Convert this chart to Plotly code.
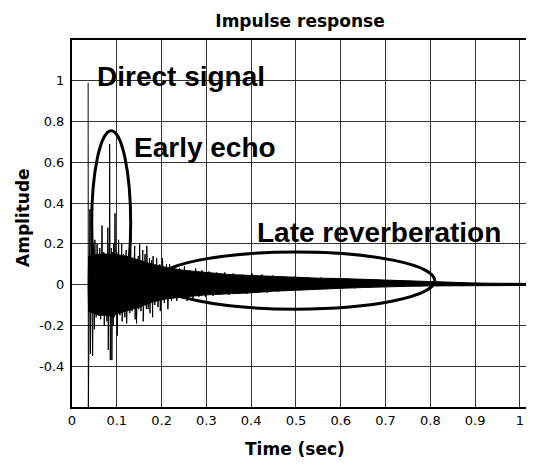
import plotly.graph_objects as go

# ---------------- data ----------------
# dense part of the response: upper / lower envelope of the black band
env_t  = [0.036, 0.037, 0.06, 0.09, 0.12, 0.15, 0.18, 0.21, 0.25, 0.30, 0.35, 0.40,
          0.45, 0.50, 0.55, 0.60, 0.65, 0.70, 0.75, 0.80, 0.85, 0.90, 0.95, 1.00, 1.018]
env_hi = [0.0, 0.14, 0.15, 0.15, 0.14, 0.12, 0.10, 0.085, 0.07, 0.06, 0.05, 0.045,
          0.04, 0.035, 0.032, 0.03, 0.026, 0.022, 0.018, 0.014, 0.01, 0.008, 0.007, 0.006, 0.006]
env_lo = [0.0, -0.13, -0.15, -0.15, -0.13, -0.11, -0.085, -0.07, -0.06, -0.05, -0.045, -0.04,
          -0.032, -0.027, -0.022, -0.018, -0.014, -0.01, -0.008, -0.006, -0.005, -0.004, -0.004, -0.004, -0.004]

# individual peaks (direct signal, early echoes, reverberation texture)
spike_t = [0.036, 0.0365, 0.040, 0.041, 0.043, 0.046, 0.048, 0.050, 0.051, 0.054,
           0.056, 0.059, 0.062, 0.064, 0.067, 0.069, 0.071, 0.072, 0.076, 0.078,
           0.080, 0.081, 0.083, 0.0835, 0.084, 0.0855, 0.088, 0.089, 0.091, 0.092,
           0.093, 0.094, 0.096, 0.098, 0.100, 0.101, 0.104, 0.107, 0.111, 0.112,
           0.115, 0.118, 0.121, 0.122, 0.126, 0.129, 0.131, 0.134, 0.140, 0.141,
           0.143, 0.144, 0.148, 0.149, 0.151, 0.154, 0.158, 0.159, 0.163, 0.166,
           0.167, 0.170, 0.173, 0.174, 0.178, 0.180, 0.181, 0.185, 0.189, 0.192,
           0.196, 0.197, 0.202, 0.206, 0.211, 0.214, 0.218, 0.222, 0.228, 0.234,
           0.240, 0.246, 0.251, 0.257, 0.263, 0.270, 0.276, 0.283, 0.290, 0.298,
           0.306, 0.315, 0.323, 0.332, 0.341, 0.350, 0.360, 0.370, 0.380, 0.391,
           0.402, 0.413, 0.424, 0.436, 0.448, 0.460, 0.472, 0.485, 0.498, 0.512,
           0.526, 0.540, 0.555, 0.570, 0.585, 0.600, 0.616, 0.632, 0.648, 0.665,
           0.682, 0.700, 0.718, 0.737, 0.756, 0.775, 0.795, 0.815, 0.840, 0.870,
           0.900, 0.940, 0.980, 1.018]
spike_a = [0.99, -0.62, 0.37, -0.34, 0.20, -0.35, 0.16, -0.22, 0.22, -0.16,
           0.20, -0.15, 0.18, -0.17, 0.29, -0.14, 0.16, -0.20, 0.15, -0.18,
           0.28, -0.32, 0.20, -0.12, 0.69, -0.37, 0.18, -0.37, 0.16, -0.20,
           0.20, -0.16, 0.35, -0.14, 0.16, -0.25, 0.22, -0.15, 0.20, -0.18,
           0.15, -0.16, 0.17, -0.19, 0.14, -0.14, 0.17, -0.13, 0.19, -0.17,
           0.12, -0.19, 0.14, -0.12, 0.20, -0.13, 0.17, -0.18, 0.15, -0.12,
           0.19, -0.12, 0.13, -0.14, 0.12, -0.16, 0.14, -0.10, 0.13, -0.11,
           0.10, -0.13, 0.13, -0.09, 0.10, -0.12, 0.10, -0.08, 0.09, -0.08,
           0.08, -0.07, 0.09, -0.08, 0.07, -0.07, 0.08, -0.06, 0.07, -0.06,
           0.065, -0.055, 0.06, -0.05, 0.06, -0.05, 0.055, -0.045, 0.05, -0.045,
           0.055, -0.04, 0.05, -0.04, 0.045, -0.035, 0.04, -0.03, 0.04, -0.028,
           0.035, -0.025, 0.035, -0.022, 0.032, -0.02, 0.03, -0.018, 0.027, -0.015,
           0.024, -0.012, 0.02, -0.01, 0.017, -0.008, 0.014, -0.006, 0.01, -0.005,
           0.008, -0.004, 0.006, 0.0]

x_ticks = [0, 0.1, 0.2, 0.3, 0.4, 0.5, 0.6, 0.7, 0.8, 0.9, 1]
x_tick_text = ["0", "0.1", "0.2", "0.3", "0.4", "0.5", "0.6", "0.7", "0.8", "0.9", "1"]
y_ticks = [-0.4, -0.2, 0, 0.2, 0.4, 0.6, 0.8, 1]
y_tick_text = ["-0.4", "-0.2", "0", "0.2", "0.4", "0.6", "0.8", "1"]

# annotation regions (ellipses) : x0, x1, y0, y1
early_box = [0.044, 0.131, -0.15, 0.755]
late_box = [0.19, 0.81, -0.12, 0.16]

fig = go.Figure()

fig.add_trace(go.Scatter(
    x=env_t + env_t[::-1], y=env_hi + env_lo[::-1],
    fill="toself", fillcolor="black", mode="lines",
    line=dict(color="black", width=1), hoverinfo="skip", showlegend=False))

fig.add_trace(go.Scatter(
    x=spike_t, y=spike_a, mode="lines",
    line=dict(color="black", width=1), showlegend=False))

for box in (early_box, late_box):
    fig.add_shape(type="circle", xref="x", yref="y",
                  x0=box[0], x1=box[1], y0=box[2], y1=box[3],
                  line=dict(color="black", width=3), layer="above")

label_font = dict(family="Liberation Sans", size=28, color="black")
fig.add_annotation(x=0.051, y=1.02, xref="x", yref="y", text="<b>Direct signal</b>",
                   showarrow=False, xanchor="left", yanchor="middle", font=label_font)
fig.add_annotation(x=0.133, y=0.675, xref="x", yref="y", text="<b>Early echo</b>",
                   showarrow=False, xanchor="left", yanchor="middle", font=label_font)
fig.add_annotation(x=0.408, y=0.255, xref="x", yref="y", text="<b>Late reverberation</b>",
                   showarrow=False, xanchor="left", yanchor="middle", font=label_font)

axis_title_font = dict(family="DejaVu Sans", size=17, color="black")
fig.add_annotation(x=0, y=0.515, xref="paper", yref="paper", text="<b>Amplitude</b>",
                   textangle=-90, showarrow=False, xanchor="center", yanchor="middle",
                   xshift=-49, font=axis_title_font)
fig.add_annotation(x=0.49, y=0, xref="paper", yref="paper", text="<b>Time (sec)</b>",
                   showarrow=False, xanchor="center", yanchor="middle",
                   yshift=-42, font=axis_title_font)

# the page has an 8px body margin, so the figure is drawn 8px in from the corner
fig.update_layout(
    width=526, height=457,
    margin=dict(l=64, r=4, t=32, b=58),
    paper_bgcolor="white", plot_bgcolor="white",
    title=dict(text="<b>Impulse response</b>", x=292 / 526, xanchor="center",
               y=1 - 13 / 457, yanchor="middle", yref="container",
               font=dict(family="DejaVu Sans", size=17, color="black")),
    xaxis=dict(range=[0, 1.018], tickvals=x_ticks, ticktext=x_tick_text,
               showgrid=True, gridcolor="#333", gridwidth=1, zeroline=False,
               showline=True, linecolor="black", linewidth=2, mirror=True,
               ticks="", ticklabelstandoff=0,
               tickfont=dict(family="DejaVu Sans", size=13, color="black")),
    yaxis=dict(range=[-0.6, 1.2], tickvals=y_ticks, ticktext=y_tick_text,
               showgrid=True, gridcolor="#333", gridwidth=1, zeroline=False,
               showline=True, linecolor="black", linewidth=2, mirror=True,
               ticks="", ticklabelstandoff=3,
               tickfont=dict(family="DejaVu Sans", size=13, color="black")),
)

fig.write_html("out.html")
